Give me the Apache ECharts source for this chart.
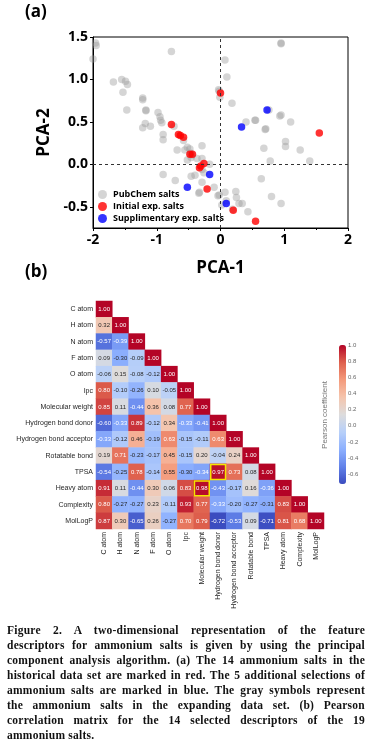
<!DOCTYPE html>
<html>
<head>
<meta charset="utf-8">
<script src="https://cdn.jsdelivr.net/npm/echarts@6/dist/echarts.min.js"></script>
<style>
html,body{margin:0;padding:0;background:#fff;}
#chart{position:absolute;left:0;top:0;width:371px;height:746px;}
#caption{position:absolute;left:7px;top:623px;width:358px;font-family:"Liberation Serif","DejaVu Serif",serif;font-weight:bold;font-size:11.5px;line-height:15px;letter-spacing:0.25px;color:#111;}
#caption div{text-align:justify;text-align-last:justify;white-space:nowrap;}
#caption div.last{text-align-last:left;}
</style>
</head>
<body>
<div id="chart"></div>
<div id="caption">
<div>Figure 2. A two-dimensional representation of the feature</div>
<div>descriptors for ammonium salts is given by using the principal</div>
<div>component analysis algorithm. (a) The 14 ammonium salts in the</div>
<div>historical data set are marked in red. The 5 additional selections of</div>
<div>ammonium salts are marked in blue. The gray symbols represent</div>
<div>the ammonium salts in the expanding data set. (b) Pearson</div>
<div>correlation matrix for the 14 selected descriptors of the 19</div>
<div class="last">ammonium salts.</div>
</div>
<script>
// ---------- Data ----------
const pubchemSalts = [
[-1.96,1.43],[-1.95,1.40],[-2.0,1.24],[-0.77,1.33],[0.95,1.43],[0.95,1.42],[0.07,1.23],[0.10,1.03],
[-1.68,0.97],[-1.55,1.00],[-1.49,0.98],[-1.46,0.94],[-1.53,0.85],[-1.47,0.64],[-1.22,0.78],[-1.22,0.76],
[-1.17,0.64],[-1.17,0.63],[-1.18,0.48],[-1.22,0.43],[-1.10,0.45],[-0.98,0.61],[-0.95,0.56],[-0.94,0.52],
[-0.92,0.49],[-0.90,0.35],[-0.90,0.29],[-0.90,-0.12],[-0.73,0.45],[-0.68,0.17],[-0.71,-0.19],[-0.58,0.28],
[-0.56,0.17],[-0.52,0.20],[-0.48,0.18],[-0.52,0.05],[-0.46,0.08],[-0.46,-0.14],[-0.40,-0.13],[-0.37,0.07],
[-0.29,0.22],[-0.29,0.07],[-0.29,-0.06],[-0.26,-0.10],[-0.29,-0.21],[-0.34,-0.34],[-0.33,-0.33],[-0.17,0.00],
[-0.10,-0.27],[-0.04,-0.37],[-0.03,0.88],[-0.02,0.86],[-0.01,0.79],[0.18,0.72],[0.07,-0.33],[0.02,-0.48],
[0.09,-0.43],[0.24,-0.32],[0.25,-0.39],[0.29,-0.46],[0.34,-0.46],[0.43,-0.56],[0.40,0.50],[0.54,0.52],
[0.55,0.52],[0.71,0.42],[0.70,0.41],[0.76,0.64],[0.93,0.57],[0.95,0.58],[1.10,0.50],[1.02,0.27],
[1.02,0.21],[0.68,0.19],[0.78,0.04],[1.25,0.17],[1.40,0.04],[0.64,-0.17],[0.80,-0.38],[0.95,-0.46],
[-0.47,0.13],[-0.45,0.11],[0.19,-0.53],[-0.02,-0.36]
];
const initialSalts = [
[0.00,0.84],[-0.77,0.47],[-0.66,0.35],[-0.63,0.34],[-0.58,0.32],[-0.48,0.12],[-0.44,0.12],
[-0.26,0.01],[-0.33,-0.04],[-0.31,-0.02],[-0.21,-0.29],[0.20,-0.54],[0.55,-0.67],[1.55,0.37]
];
const supplementarySalts = [
[0.73,0.64],[0.33,0.44],[-0.17,-0.12],[-0.52,-0.27],[0.09,-0.46]
];
const pcaXTicks = [-2,-1,0,1,2];
const pcaYTicks = [-0.5,0,0.5,1,1.5];

const descriptors = ['C atom','H atom','N atom','F atom','O atom','Ipc','Molecular weight',
'Hydrogen bond donor','Hydrogen bond acceptor','Rotatable bond','TPSA','Heavy atom','Complexity','MolLogP'];
const corrRows = [
[1.00],
[0.32,1.00],
[-0.57,-0.39,1.00],
[0.09,-0.30,-0.09,1.00],
[-0.06,0.15,-0.08,-0.12,1.00],
[0.80,-0.10,-0.26,0.10,-0.05,1.00],
[0.85,0.11,-0.44,0.36,0.08,0.77,1.00],
[-0.60,-0.33,0.89,-0.12,0.34,-0.33,-0.41,1.00],
[-0.33,-0.12,0.46,-0.19,0.63,-0.15,-0.11,0.63,1.00],
[0.19,0.71,-0.23,-0.17,0.45,-0.15,0.20,-0.04,0.24,1.00],
[-0.54,-0.25,0.78,-0.14,0.55,-0.30,-0.34,0.97,0.73,0.08,1.00],
[0.91,0.11,-0.44,0.30,0.06,0.83,0.98,-0.43,-0.17,0.16,-0.36,1.00],
[0.80,-0.27,-0.27,0.23,-0.11,0.93,0.77,-0.33,-0.20,-0.27,-0.31,0.83,1.00],
[0.87,0.30,-0.65,0.26,-0.27,0.70,0.79,-0.72,-0.53,0.09,-0.71,0.81,0.68,1.00]
];
const highlightedCells = [[7,10],[6,11]]; // [column, row]
const colorbarTicks = [-0.6,-0.4,-0.2,0.0,0.2,0.4,0.6,0.8,1.0];
const corrMin = -0.72, corrMax = 1.0;
const coolwarm = ['#3b4cc0','#6282ea','#8db0fe','#b8d0f9','#dddcdc','#f5c4ac','#f49a7b','#de604d','#b40426'];

// ---------- helpers ----------
function hex2rgb(h){return [parseInt(h.slice(1,3),16),parseInt(h.slice(3,5),16),parseInt(h.slice(5,7),16)];}
function cmap(v){
  let t=(v-corrMin)/(corrMax-corrMin); t=Math.max(0,Math.min(1,t));
  const n=coolwarm.length-1, i=Math.min(n-1,Math.floor(t*n)), f=t*n-i;
  const a=hex2rgb(coolwarm[i]), b=hex2rgb(coolwarm[i+1]);
  return a.map((c,k)=>c+(b[k]-c)*f);
}
function lum(rgb){
  const l=rgb.map(c=>{c/=255;return c<=0.03928?c/12.92:Math.pow((c+0.055)/1.055,2.4);});
  return 0.2126*l[0]+0.7152*l[1]+0.0722*l[2];
}
const heatData=[];
corrRows.forEach((row,i)=>row.forEach((v,j)=>{
  heatData.push({value:[j,i,v],label:{color: lum(cmap(v))>0.408?'#262626':'#ffffff'}});
}));

const chart = echarts.init(document.getElementById('chart'), null, {renderer:'canvas'});
const sansBold = {fontFamily:'"Open Sans", "Liberation Sans", sans-serif', fontWeight:'bold', color:'#000'};

chart.setOption({
  animation:false,
  backgroundColor:'#fff',
  graphic:[
    {type:'text', left:25, top:4, style:{text:'(a)', font:'bold 17px "Open Sans", sans-serif', fill:'#000'}},
    {type:'text', left:25, top:264, style:{text:'(b)', font:'bold 17px "Open Sans", sans-serif', fill:'#000'}},
    {type:'text', x:325, y:415, rotation:Math.PI/2, style:{text:'Pearson coefficient', font:'8px "Liberation Sans", sans-serif', fill:'#777', align:'center', verticalAlign:'middle'}}
  ],
  legend:{
    data:['PubChem salts','Initial exp. salts','Supplimentary exp. salts'],
    orient:'vertical', left:98, top:190, itemWidth:9, itemHeight:9, itemGap:3, padding:0,
    icon:'circle',
    textStyle:{fontFamily:'"Open Sans", sans-serif', fontWeight:'bold', fontSize:9, color:'#000', padding:[0,0,0,1]}
  },
  grid:[
    {left:93, top:37, width:255, height:191, show:true, borderColor:'#000', borderWidth:1, containLabel:false},
    {left:96, top:301, width:228, height:228, containLabel:false},
    {left:339, top:345, width:7, height:139, containLabel:false}
  ],
  visualMap:{
    type:'continuous', seriesIndex:3, min:corrMin, max:corrMax, calculable:false,
    inRange:{color:coolwarm}, orient:'vertical', left:339, top:345, itemWidth:7, itemHeight:139,
    text:null, showLabel:false, padding:0, show:true, hoverLink:false
  },
  xAxis:[
    {gridIndex:0, type:'value', min:-2, max:2, interval:1,
     axisLine:{show:true, onZero:false, lineStyle:{color:'#000', width:1}},
     axisTick:{show:true, length:3, lineStyle:{color:'#000'}},
     minorTick:{show:true, splitNumber:2, length:2, lineStyle:{color:'#000'}},
     splitLine:{show:false},
     axisLabel:Object.assign({fontSize:14, margin:5, formatter:v=>String(v)}, sansBold),
     name:'PCA-1', nameLocation:'middle', nameGap:32, nameTextStyle:Object.assign({fontSize:17}, sansBold)},
    {gridIndex:1, type:'category', data:descriptors, position:'bottom',
     axisLine:{show:false}, axisTick:{show:false}, splitLine:{show:false},
     axisLabel:{rotate:90, fontSize:7, margin:3, color:'#262626', fontFamily:'"Liberation Sans", Arial, sans-serif', interval:0}},
    {gridIndex:2, type:'value', show:false, min:0, max:1}
  ],
  yAxis:[
    {gridIndex:0, type:'value', min:-0.75, max:1.5,
     axisLine:{show:true, onZero:false, lineStyle:{color:'#000', width:1}},
     axisTick:{show:true, length:3, customValues:pcaYTicks, lineStyle:{color:'#000'}},
     splitLine:{show:false},
     axisLabel:Object.assign({fontSize:14, margin:5, customValues:pcaYTicks, formatter:v=>v.toFixed(1)}, sansBold),
     name:'PCA-2', nameLocation:'middle', nameGap:37, nameTextStyle:Object.assign({fontSize:17}, sansBold)},
    {gridIndex:1, type:'category', data:descriptors, inverse:true,
     axisLine:{show:false}, axisTick:{show:false}, splitLine:{show:false},
     axisLabel:{fontSize:7, margin:3, color:'#262626', fontFamily:'"Liberation Sans", Arial, sans-serif', interval:0}},
    {gridIndex:2, type:'value', min:corrMin, max:corrMax, position:'right',
     axisLine:{show:false}, splitLine:{show:false},
     axisTick:{show:false},
     axisLabel:{customValues:colorbarTicks, formatter:v=>v.toFixed(1), fontSize:6, margin:2, color:'#666', fontFamily:'"Liberation Sans", Arial, sans-serif'}}
  ],
  series:[
    {name:'PubChem salts', type:'scatter', xAxisIndex:0, yAxisIndex:0, data:pubchemSalts, symbolSize:7.5,
     itemStyle:{color:'rgba(150,150,150,0.5)'},
     markLine:{silent:true, symbol:['none','none'], label:{show:false},
       lineStyle:{type:[3,3], color:'#333', width:1},
       data:[{xAxis:0},{yAxis:0}]}},
    {name:'Initial exp. salts', type:'scatter', xAxisIndex:0, yAxisIndex:0, data:initialSalts, symbolSize:7.5,
     itemStyle:{color:'#ff0000'}},
    {name:'Supplimentary exp. salts', type:'scatter', xAxisIndex:0, yAxisIndex:0, data:supplementarySalts, symbolSize:7.5,
     itemStyle:{color:'#0000ff'}},
    {name:'corr', type:'heatmap', xAxisIndex:1, yAxisIndex:1, data:heatData,
     label:{show:true, fontSize:6, fontFamily:'"Liberation Sans", Arial, sans-serif', formatter:p=>p.value[2].toFixed(2)},
     itemStyle:{borderWidth:0}, emphasis:{disabled:true}},
    {name:'highlight', type:'custom', xAxisIndex:1, yAxisIndex:1, data:highlightedCells, z:5,
     renderItem:function(params, api){
       const p=api.coord([api.value(0),api.value(1)]); const s=api.size([1,1]);
       return {type:'rect', shape:{x:p[0]-s[0]/2+0.75, y:p[1]-s[1]/2+0.75, width:s[0]-1.5, height:s[1]-1.5},
               style:{fill:'none', stroke:'#f5e600', lineWidth:1.5}};
     }},
    {name:'cbar', type:'scatter', xAxisIndex:2, yAxisIndex:2, data:[], silent:true}
  ]
});
</script>
</body>
</html>
